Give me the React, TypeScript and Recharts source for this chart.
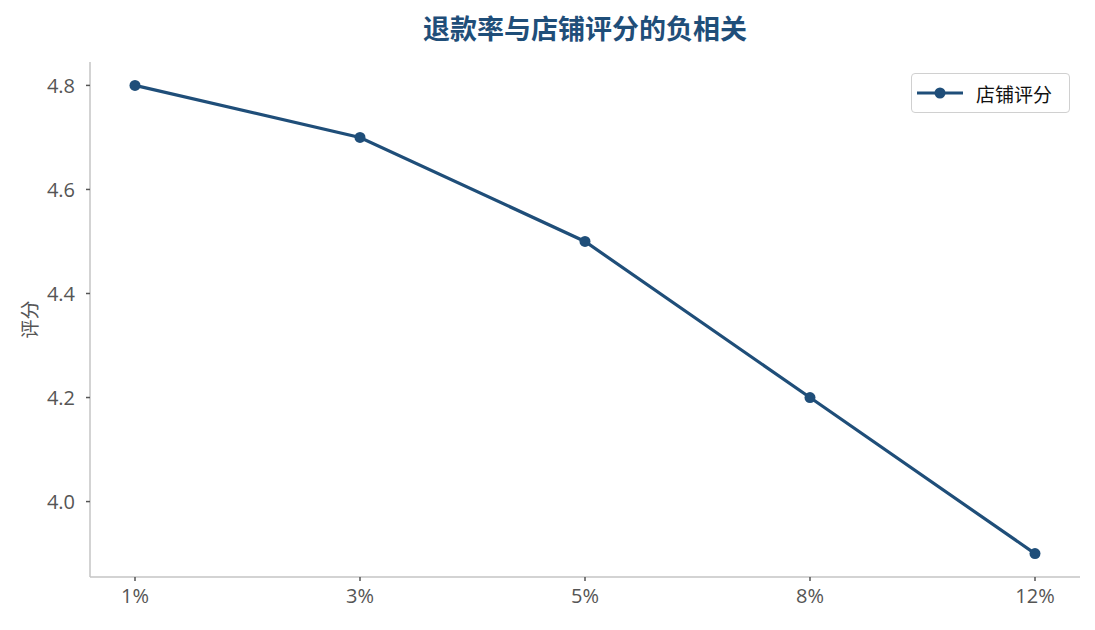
import { LineChart, Line, XAxis, YAxis } from 'recharts'

// 退款率区间与对应的店铺评分
const refundRates = ['1%', '3%', '5%', '8%', '12%']
const storeScores = [4.8, 4.7, 4.5, 4.2, 3.9]
const yTicks = [4.0, 4.2, 4.4, 4.6, 4.8]

const data = refundRates.map((rate, i) => ({ rate, score: storeScores[i] }))

const COLOR = '#1f4e79'
const FONT = '"Open Sans", "Noto Sans CJK SC", sans-serif'

// 图例直接叠在画布上,避免 Legend 占掉绘图区高度
function LegendBox() {
  return (
    <div
      style={{
        position: 'absolute',
        left: 911,
        top: 73,
        width: 159,
        height: 40,
        border: '1.5px solid #d0d0d0',
        borderRadius: 4,
        background: '#fff',
        display: 'flex',
        alignItems: 'center',
        boxSizing: 'border-box',
        fontFamily: '"Noto Sans CJK SC", sans-serif',
      }}
    >
      <svg width={60} height={20} style={{ marginLeft: 4 }}>
        <line x1={1} y1={10} x2={47} y2={10} stroke={COLOR} strokeWidth={3} />
        <circle cx={24} cy={10} r={5.5} fill={COLOR} />
      </svg>
      <span style={{ fontSize: 19, color: '#111' }}>店铺评分</span>
    </div>
  )
}

function YLabel(props: { viewBox?: { x: number; y: number; width: number; height: number } }) {
  const { viewBox } = props
  if (!viewBox) return null
  const cy = viewBox.y + viewBox.height / 2
  return (
    <text
      x={28}
      y={cy}
      transform={`rotate(-90, 28, ${cy})`}
      textAnchor="middle"
      dominantBaseline="central"
      style={{ fontSize: 19, fill: '#555', fontFamily: '"Noto Sans CJK SC", sans-serif' }}
    >
      评分
    </text>
  )
}

export default function App() {
  return (
    <div style={{ position: 'absolute', left: 0, top: 0, width: 1095, height: 630, background: '#fff' }}>
      <div
        style={{
          position: 'absolute',
          left: 90,
          width: 990,
          top: 11,
          textAlign: 'center',
          fontSize: 27,
          fontWeight: 700,
          color: COLOR,
          fontFamily: '"Noto Sans CJK SC", sans-serif',
          lineHeight: '34px',
        }}
      >
        退款率与店铺评分的负相关
      </div>
      <LineChart
        width={1095}
        height={630}
        data={data}
        margin={{ top: 62, right: 15, left: 0, bottom: 0 }}
      >
        <XAxis
          dataKey="rate"
          height={53}
          padding={{ left: 45, right: 45 }}
          stroke="#c4c4c4"
          strokeWidth={1.5}
          tickLine={{ stroke: '#555', strokeWidth: 1.5 }}
          tickSize={4}
          tickMargin={8}
          tick={{ fontSize: 20, fill: '#555', fontFamily: FONT }}
          interval={0}
        />
        <YAxis
          width={90}
          domain={[3.855, 4.845]}
          ticks={yTicks}
          allowDataOverflow
          tickFormatter={(v: number) => v.toFixed(1)}
          stroke="#c4c4c4"
          strokeWidth={1.5}
          tickLine={{ stroke: '#555', strokeWidth: 1.5 }}
          tickSize={4}
          tickMargin={11}
          tick={{ fontSize: 20, fill: '#555', fontFamily: FONT }}
          label={<YLabel />}
        />
        <Line
          type="linear"
          dataKey="score"
          name="店铺评分"
          stroke={COLOR}
          strokeWidth={3.2}
          dot={{ r: 5.5, fill: COLOR, stroke: COLOR, strokeWidth: 0 }}
          activeDot={false}
          isAnimationActive={false}
        />
      </LineChart>
      <LegendBox />
    </div>
  )
}
